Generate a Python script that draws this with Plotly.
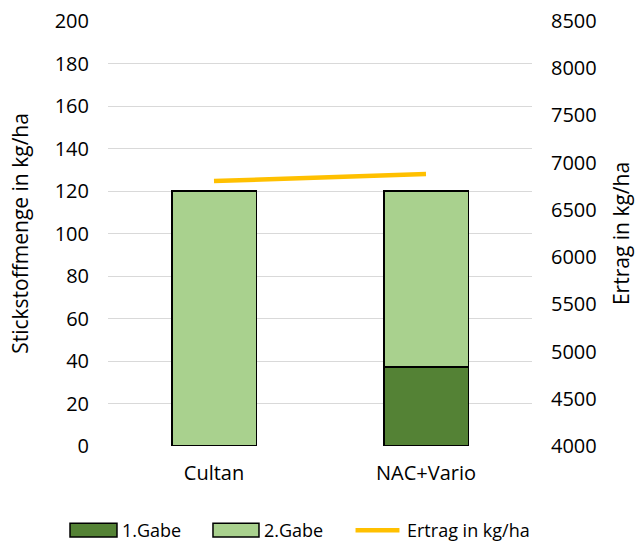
import plotly.graph_objects as go

categories = ["Cultan", "NAC+Vario"]
gabe1 = [0, 37]
gabe2 = [120, 83]
ertrag = [6805, 6880]

series_names = ["1.Gabe", "2.Gabe", "Ertrag in kg/ha"]
colors = ["#548235", "#A9D18E", "#FFC000"]

font_family = "'Open Sans', sans-serif"

fig = go.Figure()
fig.add_trace(go.Bar(
    x=categories, y=gabe1, name=series_names[0],
    marker=dict(color=colors[0], line=dict(color="black", width=1.8)),
))
fig.add_trace(go.Bar(
    x=categories, y=gabe2, name=series_names[1],
    marker=dict(color=colors[1], line=dict(color="black", width=1.8)),
))
fig.add_trace(go.Scatter(
    x=categories, y=ertrag, name=series_names[2], yaxis="y2",
    mode="lines", line=dict(color=colors[2], width=4.5),
))

# legend drawn below the plot: wide swatches as in office-style charts
legend_y = -0.198
swatches = [(-0.0896, 0.0212), (0.2476, 0.3561), (0.5778, 0.6934)]
shapes = []
annotations = []
for i, (x0, x1) in enumerate(swatches):
    if i < 2:
        shapes.append(dict(type="rect", xref="paper", yref="paper",
                           x0=x0, x1=x1, y0=legend_y - 0.016, y1=legend_y + 0.016,
                           fillcolor=colors[i], line=dict(color="black", width=1.5)))
    else:
        shapes.append(dict(type="line", xref="paper", yref="paper",
                           x0=x0 + 0.006, x1=x1 - 0.006, y0=legend_y, y1=legend_y,
                           line=dict(color=colors[i], width=4.5)))
    annotations.append(dict(text=series_names[i], xref="paper", yref="paper",
                            x=x1 + 0.008, y=legend_y, xanchor="left", yanchor="middle",
                            showarrow=False, font=dict(size=18)))

fig.update_layout(
    width=640, height=543,
    barmode="stack", bargap=0.6,
    plot_bgcolor="white", paper_bgcolor="white",
    margin=dict(l=108, r=108, t=21, b=97, autoexpand=False),
    font=dict(family=font_family, size=20, color="#000000"),
    showlegend=False,
    shapes=shapes,
    annotations=annotations,
    xaxis=dict(showgrid=False, showline=False, ticks="", ticklabelstandoff=13,
               automargin=False, tickfont=dict(size=20)),
    yaxis=dict(range=[0, 200], dtick=20, showgrid=True, gridcolor="#d9d9d9",
               gridwidth=1.3, zeroline=False, ticks="", ticklabelstandoff=18,
               automargin=False,
               title=dict(text="Stickstoffmenge in kg/ha", font=dict(size=21), standoff=20),
               tickfont=dict(size=20)),
    yaxis2=dict(range=[4000, 8500], dtick=500, overlaying="y", side="right",
                showgrid=False, zeroline=False, ticklabelstandoff=18,
                automargin=False,
                title=dict(text="Ertrag in kg/ha", font=dict(size=21), standoff=18),
                tickfont=dict(size=20)),
)

fig.write_html("out.html")
